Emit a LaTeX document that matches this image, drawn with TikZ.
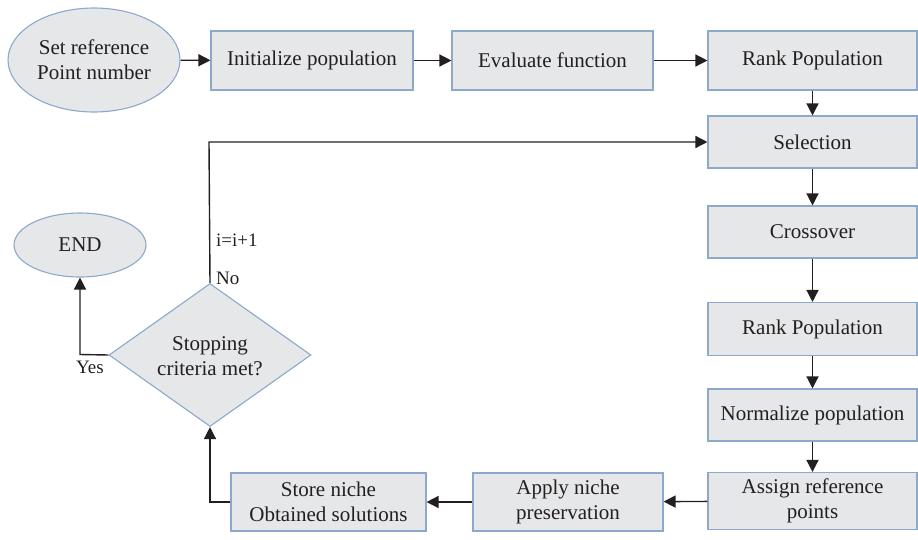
\documentclass[tikz,border=0pt]{standalone}
\usepackage{fontspec}
\setmainfont{Liberation Serif}
\usetikzlibrary{shapes.geometric,arrows.meta}
\definecolor{boxfill}{HTML}{E6E7E8}
\definecolor{boxline}{HTML}{8CA9CC}
\definecolor{arr}{HTML}{231F20}
\begin{document}
\begin{tikzpicture}[x=1pt,y=-1pt,
  every node/.style={font=\fontsize{21}{25}\selectfont, text=arr},
  box/.style={draw=boxline, fill=boxfill, line width=1.1pt, rectangle, inner sep=0pt, align=center},
  oval/.style={draw=boxline, fill=boxfill, line width=1.1pt, ellipse, inner sep=0pt, align=center},
  conn/.style={draw=arr, line width=1.4pt, -{Triangle[length=12pt,width=12pt]}},
  lbl/.style={inner sep=0pt, font=\fontsize{19}{22}\selectfont}]
\useasboundingbox (0,0) rectangle (918,539);
\node[oval, minimum width=172, minimum height=104] (start) at (94,60) {Set reference\\Point number};
\node[box, minimum width=202, minimum height=59] (init) at (312,60.5) {Initialize population};
\node[box, minimum width=201, minimum height=59] (eval) at (552.5,60.5) {Evaluate function};
\node[box, minimum width=209, minimum height=59] (rank1) at (812.5,60.5) {Rank Population};
\node[box, minimum width=209, minimum height=52] (sel) at (812.5,142) {Selection};
\node[box, minimum width=209, minimum height=52] (cross) at (812.5,232) {Crossover};
\node[box, minimum width=209, minimum height=53] (rank2) at (812.5,329) {Rank Population};
\node[box, minimum width=209, minimum height=52] (norm) at (812.5,415) {Normalize population};
\node[box, minimum width=209, minimum height=57] (assign) at (812.5,501) {Assign reference\\points};
\node[box, minimum width=190, minimum height=58] (apply) at (568,502) {Apply niche\\preservation};
\node[box, minimum width=195, minimum height=58] (store) at (328.5,502) {Store niche\\Obtained solutions};
\node[draw=boxline, fill=boxfill, line width=1.1pt, diamond, minimum width=202, minimum height=143, inner sep=0pt] (dec) at (210,355) {};
\node[align=center, inner sep=0pt] (dectext) at (210,356) {Stopping\\criteria met?};
\node[oval, minimum width=132, minimum height=64] (endn) at (80,245) {END};
\coordinate (loopc) at (209,142);
\coordinate (yesc) at (80,354.5);
\coordinate (storec) at (210,502);
\draw[conn] (start) -- (init);
\draw[conn] (init) -- (eval);
\draw[conn] (eval) -- (rank1);
\draw[conn] (rank1) -- (sel);
\draw[conn] (sel) -- (cross);
\draw[conn] (cross) -- (rank2);
\draw[conn] (rank2) -- (norm);
\draw[conn] (norm) -- (assign);
\draw[conn] (assign) -- (apply);
\draw[conn] (apply) -- (store);
\draw[conn] (store.west) -- (storec) -- (dec.south);
\draw[conn] (dec.west) -- (yesc) -- (endn.south);
\draw[conn] (dec.north) -- (loopc) -- (sel.west);
\node[lbl, anchor=west] (inc) at (216,240) {i=i+1};
\node[lbl, anchor=west] (no) at (216,278) {No};
\node[lbl] (yes) at (90,367) {Yes};
\end{tikzpicture}
\end{document}
